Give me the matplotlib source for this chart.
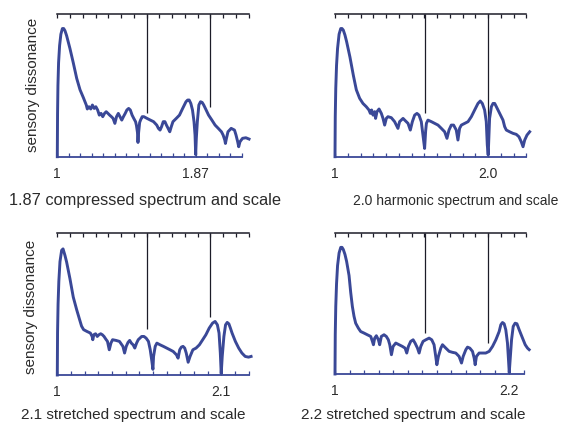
import matplotlib
matplotlib.use("Agg")
import matplotlib.pyplot as plt
import numpy as np

plt.rcParams['font.family'] = ['Liberation Sans', 'DejaVu Sans']

# ---------------- data (x in cents above unison, y = sensory dissonance, arbitrary units) -------------
titles = ["1.87 compressed spectrum and scale", "2.0 harmonic spectrum and scale",
          "2.1 stretched spectrum and scale", "2.2 stretched spectrum and scale"]
pseudo_octaves = [1.87, 2.0, 2.1, 2.2]
octave_labels = ["1.87", "2.0", "2.1", "2.2"]

cents_1 = [0, 2, 5, 10, 18, 28, 40, 50, 60, 73, 86, 99, 125, 152, 178, 204, 227, 235, 248, 262, 275,
           289, 302, 316, 329, 343, 356, 370, 383, 397, 410, 424, 437, 451, 464, 478, 491, 505, 518,
           532, 545, 559, 572, 586, 599, 613, 620, 628, 632, 637, 645, 652, 665, 678, 703, 729, 754,
           779, 792, 805, 817, 830, 843, 855, 868, 881, 893, 906, 932, 957, 982, 1008, 1021, 1033,
           1046, 1059, 1071, 1079, 1084, 1089, 1097, 1109, 1122, 1135, 1147, 1160, 1185, 1211, 1236,
           1261, 1286, 1299, 1312, 1317, 1325, 1337, 1362, 1388, 1400, 1413, 1421, 1431, 1451, 1477, 1502]
diss_1 = [0, 30, 50, 66, 78, 86, 90, 90, 88.5, 85, 80.5, 76, 66, 55, 47, 41.5, 36.3, 33.5, 35.1, 33.5,
          36.3, 33.9, 35.1, 32.8, 29.2, 30.4, 28.1, 30.4, 31.6, 30.4, 29.2, 28.1, 26.9, 23.4, 28.1,
          30.4, 28.1, 25.7, 28.1, 30.4, 32.8, 33.9, 32.8, 29.2, 26.9, 24.6, 22, 17, 10, 17, 24, 25.7,
          28.1, 28.1, 26.9, 25.7, 24.6, 22.2, 19.9, 18.7, 21.1, 24.6, 24.6, 22.2, 19.9, 17.5, 21.1,
          24.6, 26.9, 29.2, 33.9, 38.6, 39.8, 39.8, 37.4, 32.8, 24.6, 15.2, 1.5, 12.9, 24.6, 36.3,
          38.6, 38.1, 36.3, 33.9, 29.2, 25.7, 22.2, 19.9, 17.5, 15.2, 11.7, 9.3, 12.9, 17.5, 19.9,
          18.7, 15.2, 10.5, 7.0, 10.5, 12.9, 13.3, 12.4]

cents_2 = [0, 2, 6, 12, 20, 32, 45, 55, 65, 78, 91, 117, 144, 167, 193, 219, 245, 266, 277, 287, 298,
           311, 318, 329, 345, 363, 376, 389, 402, 415, 441, 467, 493, 506, 533, 546, 572, 590, 606,
           624, 642, 658, 676, 689, 702, 710, 716, 728, 755, 781, 807, 833, 859, 877, 893, 911, 929,
           950, 963, 976, 990, 1016, 1042, 1068, 1094, 1120, 1138, 1154, 1172, 1185, 1193, 1200, 1204,
           1211, 1225, 1238, 1251, 1264, 1290, 1316, 1329, 1342, 1368, 1394, 1420, 1441, 1459, 1473,
           1486, 1504, 1525]
diss_2 = [0, 28, 48, 64, 76, 86, 90, 90, 88.9, 85.4, 80.8, 70, 57, 47, 41, 37.4, 35.1, 32.8, 30.4,
          32.8, 29.2, 31.6, 26.9, 31.6, 33.5, 30.4, 26.9, 22.2, 26.9, 28.1, 27.4, 24.6, 19.9, 24.6,
          26.9, 25.7, 23.4, 18.7, 24.6, 29.2, 30.4, 29.2, 24.6, 15.2, 5.8, 18, 23.4, 25.7, 24.6, 23.4,
          22.2, 19.9, 17.5, 12.9, 18.7, 22.2, 22.2, 18.7, 11.7, 19.9, 22.2, 23.4, 24.6, 28.1, 32.8,
          37.4, 39.1, 37.4, 32.8, 24.6, 8.2, 1.2, 10.5, 26.9, 35.1, 37.4, 37.4, 35.1, 30.4, 25.7,
          21.1, 18.7, 17.5, 16.4, 15.7, 14.0, 10.5, 7.0, 11.7, 15.2, 17.5]

cents_3 = [0, 2, 6, 12, 21, 34, 45, 60, 73, 99, 125, 152, 175, 190, 206, 233, 259, 273, 278, 286, 300,
           313, 326, 340, 353, 366, 380, 393, 407, 420, 433, 460, 487, 514, 527, 540, 554, 567, 580,
           594, 607, 621, 634, 647, 661, 679, 696, 714, 728, 741, 749, 754, 767, 780, 805, 831, 857,
           883, 908, 933, 946, 959, 972, 985, 998, 1010, 1025, 1040, 1062, 1087, 1113, 1139, 1164,
           1190, 1216, 1236, 1254, 1267, 1277, 1284, 1292, 1305, 1318, 1331, 1344, 1356, 1369, 1395,
           1421, 1446, 1472, 1498, 1518]
diss_3 = [0, 30, 50, 66, 80, 88, 89, 84.4, 79.7, 68, 55, 46, 39, 34.5, 32, 30.7, 29.6, 27.2, 24.9,
          28.4, 29.1, 27.2, 28.4, 29.1, 28.4, 27.2, 25.3, 23.7, 17.8, 22.5, 24.9, 24.4, 23.7, 20.2,
          15.5, 20.2, 23.0, 24.4, 22.5, 21.3, 19.0, 22.5, 24.9, 26.0, 27.2, 27.2, 26.0, 23.7, 17.8,
          9.6, 4, 13.1, 20.2, 22.5, 21.3, 20.2, 19.0, 17.8, 16.6, 14.3, 11.9, 17.8, 19.7, 20.2, 19.0,
          15.5, 9.0, 13.1, 17.8, 19.0, 21.3, 24.9, 28.4, 33.1, 36.6, 37.8, 35.4, 29.6, 15.5, 1, 13.1,
          27.2, 35.4, 37.1, 36.1, 33.1, 29.6, 23.7, 19.0, 15.5, 13.1, 12.6, 13.1]

cents_4 = [0, 2, 6, 12, 20, 32, 45, 55, 65, 78, 91, 110, 123, 136, 149, 162, 183, 201, 227, 253, 280,
           293, 301, 311, 324, 340, 350, 363, 384, 402, 418, 429, 442, 455, 476, 502, 528, 549, 562,
           575, 593, 612, 627, 646, 659, 672, 690, 711, 737, 758, 776, 789, 798, 810, 829, 842, 868,
           894, 920, 946, 972, 991, 1004, 1025, 1038, 1056, 1077, 1090, 1098, 1108, 1129, 1155, 1181,
           1208, 1234, 1260, 1286, 1299, 1312, 1325, 1338, 1351, 1359, 1365, 1372, 1383, 1396, 1411,
           1425, 1443, 1469, 1490, 1508, 1521]
diss_4 = [0, 28, 48, 64, 77, 86, 90, 90, 88.5, 85, 80, 70, 58, 48, 41, 36.1, 32.6, 30.2, 29.1, 27.9,
          26.7, 23.2, 20.8, 25.5, 27.2, 24.3, 20.8, 26.7, 27.9, 26.7, 24.3, 20.8, 13.7, 19.6, 22.0,
          20.8, 19.6, 18.4, 14.9, 19.6, 23.2, 24.3, 22.0, 18.4, 14.9, 19.6, 23.2, 24.3, 25.5, 24.3,
          20.8, 12.5, 6.6, 12.5, 18.4, 20.8, 18.4, 16.1, 15.4, 14.9, 12.5, 7.8, 12.5, 17.3, 19.1,
          18.4, 16.1, 11.4, 6.6, 12.5, 14.9, 14.9, 14.9, 16.1, 19.6, 24.3, 30.2, 35.0, 36.6, 35.7,
          31.4, 22.0, 10.2, 1, 10.2, 24.3, 33.8, 36.1, 35.7, 31.4, 25.5, 20.8, 18.4, 17.3]

# heights where the fifth (3/2) and octave (2/1) marker lines end
marker_intervals = [1.5, 2.0]
marker_ends = [[31, 35], [30.4, 2], [32.7, 41], [28.9, 21.8]]

curves = [(cents_1, diss_1), (cents_2, diss_2), (cents_3, diss_3), (cents_4, diss_4)]

# ---------------- layout ----------------
W, H = 561, 429
fig = plt.figure(figsize=(W / 100, H / 100), dpi=100)

CURVE = '#3a4897'
DARK = '#1c1c28'
TEXT = '#2a2a2a'

xlim = (-10, 1530)
px_per_cent = 221 / 1731.2
ax_w = (xlim[1] - xlim[0]) * px_per_cent
zero_px = [57.3, 335.0, 57.3, 335.0]
bottoms_px = [156.7, 156.7, 375.0, 374.0]
tops_px = [14.3, 14.3, 233.3, 233.3]
title_pos = [(145, 201), (456, 201), (133, 415), (413, 415)]
title_sizes = [11.8, 10.0, 11, 11]
ylabel_pos = [(33, 85), (31, 307)]

for i in range(4):
    left = (zero_px[i] + xlim[0] * px_per_cent) / W
    bottom = (H - bottoms_px[i]) / H
    height = (bottoms_px[i] - tops_px[i]) / H
    ax = fig.add_axes([left, bottom, ax_w / W, height])
    cx, dy = curves[i]
    ax.plot(cx, dy, color=CURVE, lw=2.1, solid_joinstyle='round', clip_on=False, zorder=3)
    ax.set_xlim(*xlim)
    ax.set_ylim(0, 100)

    A = pseudo_octaves[i]
    step = 1200 * np.log2(A) / 12
    nb = int(1510 // step)
    bt = [k * step for k in range(nb + 1)]
    ax.set_xticks(bt)
    ax.set_xticklabels(['1' if k == 0 else (octave_labels[i] if k == 12 else '') for k in range(nb + 1)],
                       fontsize=10, color=TEXT)
    ax.tick_params(axis='x', direction='in', length=3.2, width=0.9, color=CURVE, pad=7.5)
    ax.set_yticks([])
    for s in ['left', 'right', 'top']:
        ax.spines[s].set_visible(False)
    ax.spines['bottom'].set_bounds(0, bt[-1])
    ax.spines['bottom'].set_color(CURVE)
    ax.spines['bottom'].set_linewidth(1.3)

    # tempered 12-tone scale on top
    ax2 = ax.twiny()
    ax2.set_xlim(*xlim)
    ax2.set_xticks([k * 100 for k in range(16)])
    ax2.set_xticklabels([])
    ax2.tick_params(axis='x', direction='in', length=3.2, width=0.9, color=DARK)
    for s in ['left', 'right', 'bottom']:
        ax2.spines[s].set_visible(False)
    ax2.spines['top'].set_bounds(0, 1500)
    ax2.spines['top'].set_color(DARK)
    ax2.spines['top'].set_linewidth(1.1)

    mc = [1200 * np.log2(r) for r in marker_intervals]
    ax.vlines(mc, marker_ends[i], 100, color=DARK, lw=0.9, zorder=2)

    fig.text(title_pos[i][0] / W, 1 - title_pos[i][1] / H, titles[i], ha='center', va='center',
             fontsize=title_sizes[i], color=TEXT)

for (x, y) in ylabel_pos:
    fig.text(x / W, 1 - y / H, "sensory dissonance", rotation=90, ha='center', va='center',
             fontsize=11, color=TEXT)

fig.savefig("out.png", dpi=100)
